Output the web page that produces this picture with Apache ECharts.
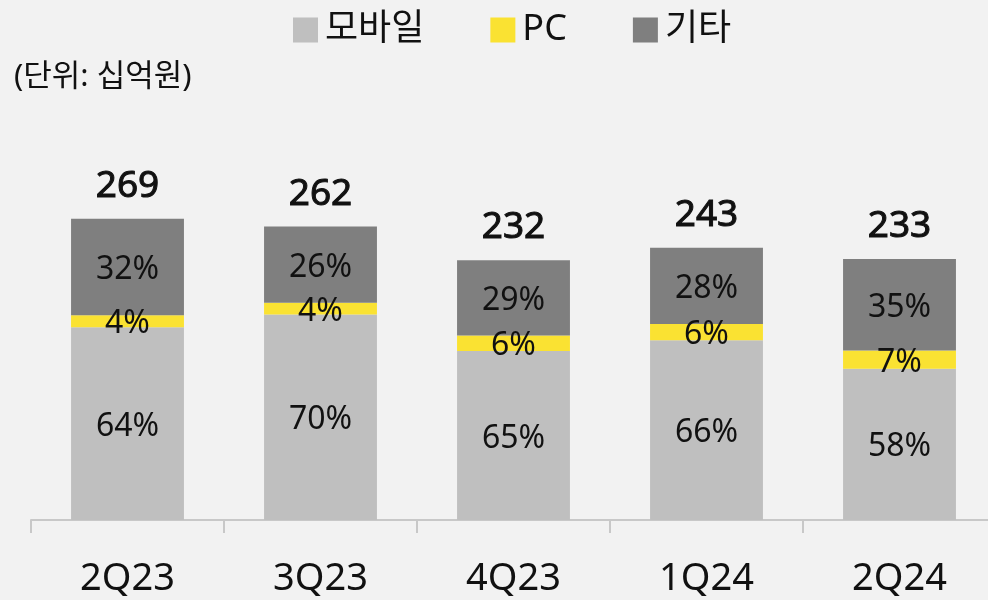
<!DOCTYPE html>
<html>
<head>
<meta charset="utf-8">
<script src="https://cdn.jsdelivr.net/npm/echarts@6/dist/echarts.min.js"></script>
<style>
  html, body { margin: 0; padding: 0; background: #f2f2f2; }
  #chart { width: 988px; height: 600px; }
</style>
</head>
<body>
<div id="chart"></div>
<script>
const quarters = ['2Q23', '3Q23', '4Q23', '1Q24', '2Q24'];
const totals = [269, 262, 232, 243, 233];
const mobilePct = [64, 70, 65, 66, 58];
const pcPct = [4, 4, 6, 6, 7];
const otherPct = [32, 26, 29, 28, 35];

const FONT = '"Noto Sans", "Noto Sans CJK KR", sans-serif';

// bar height = total * share
const toValues = pct => pct.map((p, i) => totals[i] * p / 100);

const pctLabel = {
    show: true,
    position: 'inside',
    offset: [0, 3],
    color: '#111',
    fontSize: 32,
    fontFamily: FONT,
    formatter: p => p.data.pct + '%'
};

const mkSeries = (name, pct, color) => ({
    name: name,
    type: 'bar',
    stack: 'total',
    barWidth: '58.5%',
    itemStyle: { color: color },
    label: pctLabel,
    data: toValues(pct).map((v, i) => ({ value: v, pct: pct[i] }))
});

const chart = echarts.init(document.getElementById('chart'));
chart.setOption({
    backgroundColor: '#f2f2f2',
    animation: false,
    textStyle: { fontFamily: FONT },
    legend: {
        data: ['모바일', 'PC', '기타'],
        top: 7,
        left: 288,
        itemWidth: 25,
        itemHeight: 25,
        itemGap: 66,
        icon: 'rect',
        textStyle: { fontSize: 36, color: '#111', fontFamily: FONT, padding: [0, 0, 0, 2] }
    },
    graphic: [{
        type: 'text',
        left: 14,
        top: 62,
        style: { text: '(단위: 십억원)', fontSize: 31, fill: '#111', fontFamily: FONT }
    }],
    grid: { left: 31, right: -8, top: 184, bottom: 80, outerBoundsMode: 'none', containLabel: false },
    xAxis: {
        type: 'category',
        data: quarters,
        axisLine: { lineStyle: { color: '#c8c8c8', width: 2 } },
        axisTick: { show: true, length: 13, lineStyle: { color: '#c8c8c8', width: 2 } },
        axisLabel: { fontSize: 38, color: '#111', margin: 40, fontFamily: FONT }
    },
    yAxis: {
        type: 'value',
        min: 0,
        max: 300,
        show: false,
        splitLine: { show: false }
    },
    series: [
        mkSeries('모바일', mobilePct, '#bfbfbf'),
        mkSeries('PC', pcPct, '#fae232'),
        mkSeries('기타', otherPct, '#7f7f7f'),
        {
            name: 'total',
            type: 'bar',
            stack: 'total',
            barWidth: '58.5%',
            data: totals.map(() => 0),
            label: {
                show: true,
                position: 'top',
                distance: 14,
                fontSize: 37,
                fontWeight: 'normal',
                color: '#111',
                textBorderColor: '#111',
                textBorderWidth: 1,
                fontFamily: FONT,
                formatter: p => totals[p.dataIndex]
            }
        }
    ]
});
</script>
</body>
</html>
